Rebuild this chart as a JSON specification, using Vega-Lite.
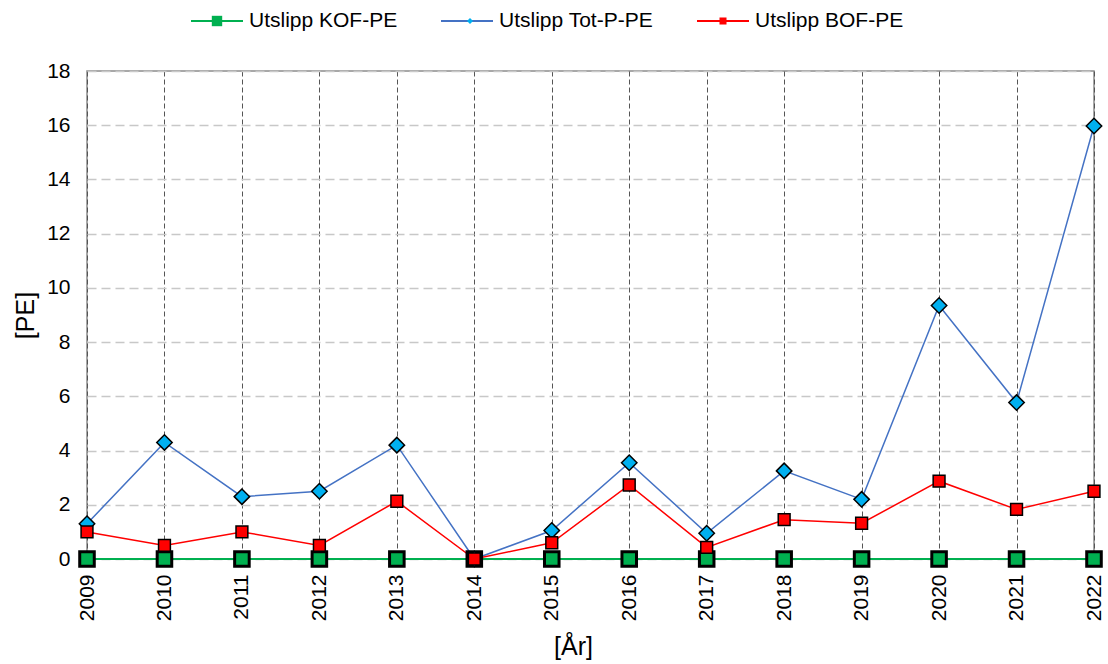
{
  "$schema": "https://vega.github.io/schema/vega-lite/v6.json",
  "width": 1007,
  "height": 488,
  "autosize": {"type": "none"},
  "padding": {"left": 87, "top": 71, "right": 14, "bottom": 105},
  "background": "white",
  "config": {
    "font": "Liberation Sans",
    "view": {"stroke": "#8c8c8c", "strokeWidth": 1.5}
  },
  "data": {
    "values": [
      {"year": "2009", "series": "Utslipp KOF-PE", "value": 0},
      {"year": "2010", "series": "Utslipp KOF-PE", "value": 0},
      {"year": "2011", "series": "Utslipp KOF-PE", "value": 0},
      {"year": "2012", "series": "Utslipp KOF-PE", "value": 0},
      {"year": "2013", "series": "Utslipp KOF-PE", "value": 0},
      {"year": "2014", "series": "Utslipp KOF-PE", "value": 0},
      {"year": "2015", "series": "Utslipp KOF-PE", "value": 0},
      {"year": "2016", "series": "Utslipp KOF-PE", "value": 0},
      {"year": "2017", "series": "Utslipp KOF-PE", "value": 0},
      {"year": "2018", "series": "Utslipp KOF-PE", "value": 0},
      {"year": "2019", "series": "Utslipp KOF-PE", "value": 0},
      {"year": "2020", "series": "Utslipp KOF-PE", "value": 0},
      {"year": "2021", "series": "Utslipp KOF-PE", "value": 0},
      {"year": "2022", "series": "Utslipp KOF-PE", "value": 0},
      {"year": "2009", "series": "Utslipp Tot-P-PE", "value": 1.3},
      {"year": "2010", "series": "Utslipp Tot-P-PE", "value": 4.3},
      {"year": "2011", "series": "Utslipp Tot-P-PE", "value": 2.3},
      {"year": "2012", "series": "Utslipp Tot-P-PE", "value": 2.5},
      {"year": "2013", "series": "Utslipp Tot-P-PE", "value": 4.2},
      {"year": "2014", "series": "Utslipp Tot-P-PE", "value": 0.0},
      {"year": "2015", "series": "Utslipp Tot-P-PE", "value": 1.05},
      {"year": "2016", "series": "Utslipp Tot-P-PE", "value": 3.55},
      {"year": "2017", "series": "Utslipp Tot-P-PE", "value": 0.95},
      {"year": "2018", "series": "Utslipp Tot-P-PE", "value": 3.25},
      {"year": "2019", "series": "Utslipp Tot-P-PE", "value": 2.2},
      {"year": "2020", "series": "Utslipp Tot-P-PE", "value": 9.35},
      {"year": "2021", "series": "Utslipp Tot-P-PE", "value": 5.77},
      {"year": "2022", "series": "Utslipp Tot-P-PE", "value": 15.97},
      {"year": "2009", "series": "Utslipp BOF-PE", "value": 1.0},
      {"year": "2010", "series": "Utslipp BOF-PE", "value": 0.5},
      {"year": "2011", "series": "Utslipp BOF-PE", "value": 1.0},
      {"year": "2012", "series": "Utslipp BOF-PE", "value": 0.5},
      {"year": "2013", "series": "Utslipp BOF-PE", "value": 2.13},
      {"year": "2014", "series": "Utslipp BOF-PE", "value": 0.0},
      {"year": "2015", "series": "Utslipp BOF-PE", "value": 0.6},
      {"year": "2016", "series": "Utslipp BOF-PE", "value": 2.73},
      {"year": "2017", "series": "Utslipp BOF-PE", "value": 0.43},
      {"year": "2018", "series": "Utslipp BOF-PE", "value": 1.45},
      {"year": "2019", "series": "Utslipp BOF-PE", "value": 1.32},
      {"year": "2020", "series": "Utslipp BOF-PE", "value": 2.87},
      {"year": "2021", "series": "Utslipp BOF-PE", "value": 1.83},
      {"year": "2022", "series": "Utslipp BOF-PE", "value": 2.5}
    ]
  },
  "encoding": {
    "x": {
      "field": "year",
      "type": "ordinal",
      "scale": {"type": "point", "padding": 0},
      "axis": {
        "title": "[År]",
        "titleFontSize": 25,
        "titleFontWeight": "normal",
        "titleColor": "#000000",
        "titlePadding": 14,
        "titleX": 486,
        "labelAngle": -90,
        "labelAlign": "right",
        "labelBaseline": "middle",
        "labelFontSize": 21,
        "labelColor": "#000000",
        "labelPadding": 15,
        "ticks": false,
        "domain": false,
        "grid": true,
        "gridColor": "#555555",
        "gridDash": [5, 3],
        "gridWidth": 1
      }
    },
    "y": {
      "field": "value",
      "type": "quantitative",
      "scale": {"domain": [0, 18], "nice": false},
      "axis": {
        "title": "[PE]",
        "titleFontSize": 25,
        "titleFontWeight": "normal",
        "titleColor": "#000000",
        "titlePadding": 8,
        "values": [0, 2, 4, 6, 8, 10, 12, 14, 16, 18],
        "labelFontSize": 21,
        "labelColor": "#000000",
        "labelPadding": 17,
        "ticks": false,
        "domain": false,
        "grid": true,
        "gridColor": "#c8c8c8",
        "gridDash": [9, 5],
        "gridWidth": 1.5
      }
    }
  },
  "layer": [
    {
      "mark": {"type": "line", "clip": false},
      "encoding": {
        "color": {
          "field": "series",
          "type": "nominal",
          "scale": {
            "domain": ["Utslipp KOF-PE", "Utslipp Tot-P-PE", "Utslipp BOF-PE"],
            "range": ["#00b050", "#4472c4", "#ff0000"]
          },
          "legend": {
            "orient": "none",
            "legendX": 103,
            "legendY": -77,
            "direction": "horizontal",
            "title": null,
            "symbolType": "M-1,0H1",
            "symbolSize": 2704,
            "symbolStrokeWidth": 2,
            "labelFontSize": 21,
            "labelFont": "Liberation Sans",
            "labelColor": "#000000",
            "labelOffset": 5,
            "columnPadding": 39,
            "padding": 0,
            "labelLimit": 400
          }
        },
        "strokeWidth": {
          "condition": {"test": "datum.series === 'Utslipp KOF-PE'", "value": 2.2},
          "value": 1.5
        }
      }
    },
    {
      "mark": {"type": "point", "filled": true, "stroke": "black", "opacity": 1, "clip": false},
      "encoding": {
        "fill": {
          "field": "series",
          "type": "nominal",
          "scale": {"range": ["#ff0000", "#00b050", "#00b0f0"]},
          "legend": {
            "orient": "none",
            "legendX": 103,
            "legendY": -77,
            "direction": "horizontal",
            "title": null,
            "values": ["Utslipp KOF-PE", "Utslipp Tot-P-PE", "Utslipp BOF-PE"],
            "labelExpr": "''",
            "symbolSize": 2704,
            "symbolStrokeColor": "black",
            "symbolStrokeWidth": 1.5,
            "labelFontSize": 21,
            "labelOffset": 6,
            "columnPadding": 193,
            "padding": 0
          }
        },
        "shape": {
          "field": "series",
          "type": "nominal",
          "scale": {
            "range": [
              "M-0.135,-0.135H0.135V0.135H-0.135Z",
              "M-0.2,-0.2H0.2V0.2H-0.2Z",
              "M-0.115,0L0,-0.115L0.115,0L0,0.115Z"
            ]
          },
          "legend": {
            "orient": "none",
            "legendX": 103,
            "legendY": -77,
            "direction": "horizontal",
            "title": null,
            "values": ["Utslipp KOF-PE", "Utslipp Tot-P-PE", "Utslipp BOF-PE"],
            "labelExpr": "''",
            "symbolSize": 2704,
            "symbolStrokeColor": "black",
            "symbolStrokeWidth": 1.5,
            "labelFontSize": 21,
            "labelOffset": 6,
            "columnPadding": 193,
            "padding": 0
          }
        },
        "size": {
          "condition": [
            {"test": "datum.series === 'Utslipp KOF-PE'", "value": 5300},
            {"test": "datum.series === 'Utslipp BOF-PE'", "value": 7686}
          ],
          "value": 17956
        },
        "strokeWidth": {
          "condition": {"test": "datum.series === 'Utslipp KOF-PE'", "value": 3},
          "value": 1.5
        }
      }
    }
  ]
}
